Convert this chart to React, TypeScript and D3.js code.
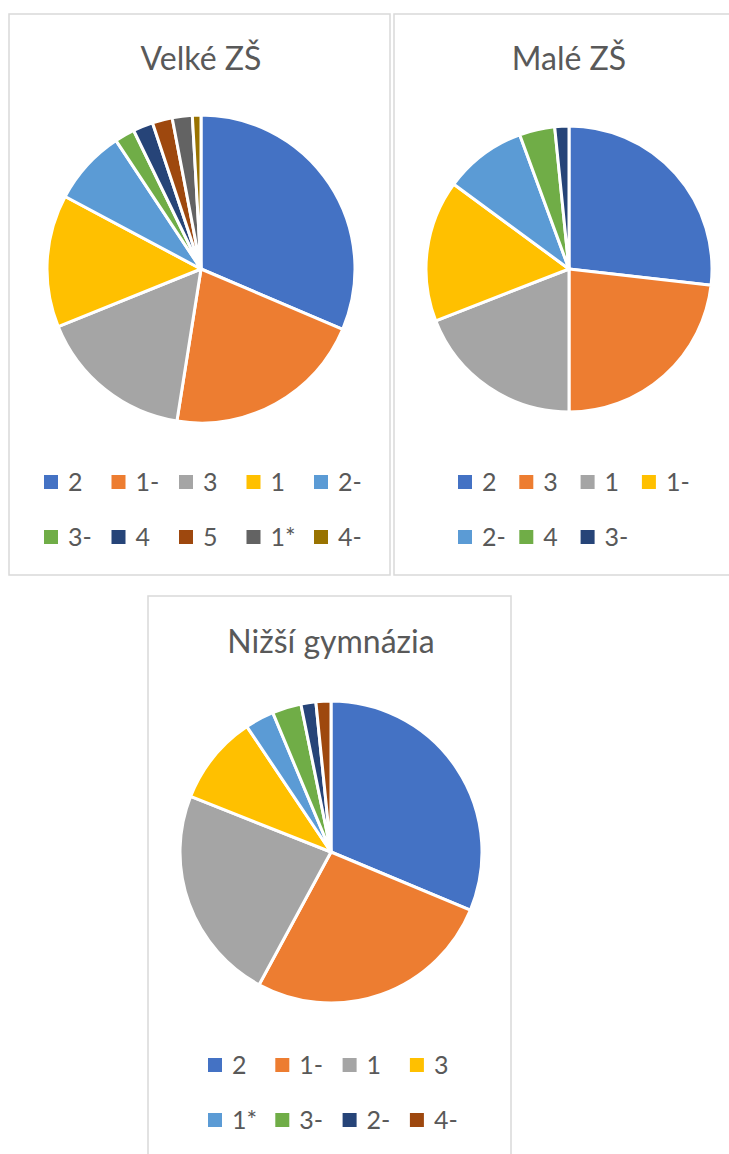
import React from "react";
import * as d3 from "d3";

const velkeLabels = ["2", "1-", "3", "1", "2-", "3-", "4", "5", "1*", "4-"];
const velkeValues = [31.4, 21.1, 16.4, 13.9, 7.9, 2.1, 2.1, 2.1, 2.1, 0.9];

const maleLabels = ["2", "3", "1", "1-", "2-", "4", "3-"];
const maleValues = [26.8, 23.2, 19.1, 16.0, 9.3, 4.0, 1.6];

const gymLabels = ["2", "1-", "1", "3", "1*", "3-", "2-", "4-"];
const gymValues = [31.3, 26.6, 23.1, 9.6, 3.1, 3.1, 1.6, 1.6];

const palette = ["#4472C4", "#ED7D31", "#A5A5A5", "#FFC000", "#5B9BD5", "#70AD47", "#264478", "#9E480E", "#636363", "#997300"];

const FONT = "Lato, 'Open Sans', sans-serif";
const TEXT = "#595959";

type PanelProps = {
  title: string;
  labels: string[];
  values: number[];
  box: [number, number, number, number];
  cx: number;
  cy: number;
  r: number;
  titleY: number;
  legendX0: number;
  legendDx: number;
  legendPerRow: number;
  legendY: [number, number];
};

function Panel(p: PanelProps) {
  const data = p.values.map((v, i) => ({ v, label: p.labels[i], i }));
  const pie = d3.pie<{ v: number }>().value((d) => d.v).sort(null);
  const arc = d3.arc<d3.PieArcDatum<{ v: number }>>().innerRadius(0).outerRadius(p.r);
  const arcs = pie(data);
  const [bx, by, bw, bh] = p.box;
  return (
    <g>
      <rect x={bx} y={by} width={bw} height={bh} fill="#fff" stroke="#D9D9D9" strokeWidth={1.5} />
      <text x={p.cx} y={p.titleY} textAnchor="middle" fontFamily={FONT} fontSize={32} fill={TEXT}>
        {p.title}
      </text>
      <g transform={`translate(${p.cx},${p.cy})`}>
        {arcs.map((a, i) => (
          <path key={i} d={arc(a) || ""} fill={palette[i]} stroke="#fff" strokeWidth={3} strokeLinejoin="round" />
        ))}
      </g>
      {data.map((d, i) => {
        const row = Math.floor(i / p.legendPerRow);
        const col = i % p.legendPerRow;
        const x = p.legendX0 + col * p.legendDx;
        const y = p.legendY[row];
        return (
          <g key={i}>
            <rect x={x} y={y - 7} width={14} height={14} fill={palette[i]} />
            <text x={x + 24} y={y} dy="0.35em" fontFamily={FONT} fontSize={25} fill={TEXT}>
              {d.label}
            </text>
          </g>
        );
      })}
    </g>
  );
}

export default function App() {
  return (
    <svg width={729} height={1154} style={{ position: "absolute", left: 0, top: 0, background: "#fff" }}>
      <rect x={0} y={0} width={729} height={1154} fill="#fff" />
      <Panel
        title="Velké ZŠ"
        labels={velkeLabels}
        values={velkeValues}
        box={[9, 14, 381, 561]}
        cx={201}
        cy={269}
        r={154}
        titleY={70}
        legendX0={44}
        legendDx={67.5}
        legendPerRow={5}
        legendY={[482, 537]}
      />
      <Panel
        title="Malé ZŠ"
        labels={maleLabels}
        values={maleValues}
        box={[394, 14, 345, 561]}
        cx={569}
        cy={269}
        r={143}
        titleY={70}
        legendX0={458}
        legendDx={61.3}
        legendPerRow={4}
        legendY={[482, 537]}
      />
      <Panel
        title="Nižší gymnázia"
        labels={gymLabels}
        values={gymValues}
        box={[148, 596, 363, 570]}
        cx={331}
        cy={852}
        r={151}
        titleY={653}
        legendX0={208}
        legendDx={67.3}
        legendPerRow={4}
        legendY={[1065, 1120]}
      />
    </svg>
  );
}
